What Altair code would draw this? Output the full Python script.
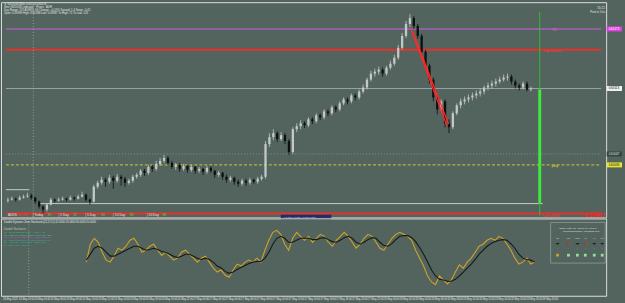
import altair as alt
import pandas as pd

FONT = "Liberation Sans"
BG = "#53635d"
TXT = "#e2e8e5"
AXC = "#b4bdb9"
W = 610
H_MAIN = 217
H_OSC = 78

# ---------------- price data (NZDUSD, M30) ----------------
open_px = [
    0.60000, 0.60001, 0.60002, 0.60001, 0.60003, 0.60004, 0.60005, 0.60003, 0.59999, 0.59994,
    0.59991, 0.59996, 0.60001, 0.60000, 0.60001, 0.60002, 0.60001, 0.60003, 0.60002, 0.60004,
    0.60006, 0.60001, 0.59999, 0.60014, 0.60018, 0.60021, 0.60019, 0.60023, 0.60020, 0.60024,
    0.60022, 0.60018, 0.60020, 0.60024, 0.60026, 0.60030, 0.60028, 0.60034, 0.60032, 0.60037,
    0.60040, 0.60043, 0.60038, 0.60034, 0.60036, 0.60032, 0.60035, 0.60031, 0.60034, 0.60030,
    0.60032, 0.60029, 0.60033, 0.60030, 0.60026, 0.60028, 0.60024, 0.60021, 0.60023, 0.60019,
    0.60017, 0.60020, 0.60018, 0.60021, 0.60019, 0.60022, 0.60024, 0.60057, 0.60064, 0.60068,
    0.60062, 0.60066, 0.60060, 0.60049, 0.60072, 0.60075, 0.60078, 0.60076, 0.60082, 0.60080,
    0.60086, 0.60084, 0.60090, 0.60088, 0.60094, 0.60092, 0.60098, 0.60102, 0.60100, 0.60106,
    0.60104, 0.60110, 0.60114, 0.60122, 0.60128, 0.60130, 0.60132, 0.60128, 0.60134, 0.60138,
    0.60144, 0.60154, 0.60166, 0.60178, 0.60184, 0.60176, 0.60166, 0.60150, 0.60136, 0.60122,
    0.60104, 0.60092, 0.60100, 0.60078, 0.60074, 0.60088, 0.60096, 0.60100, 0.60102, 0.60104,
    0.60106, 0.60108, 0.60110, 0.60114, 0.60116, 0.60118, 0.60120, 0.60122, 0.60124, 0.60125,
    0.60120, 0.60116, 0.60114, 0.60118, 0.60112,
]
high_px = [
    0.60003, 0.60004, 0.60003, 0.60005, 0.60006, 0.60008, 0.60007, 0.60004, 0.60000, 0.59995,
    0.59997, 0.60003, 0.60002, 0.60003, 0.60004, 0.60003, 0.60005, 0.60004, 0.60006, 0.60009,
    0.60007, 0.60002, 0.60016, 0.60020, 0.60024, 0.60023, 0.60026, 0.60025, 0.60027, 0.60026,
    0.60024, 0.60022, 0.60026, 0.60028, 0.60032, 0.60032, 0.60036, 0.60036, 0.60040, 0.60043,
    0.60046, 0.60045, 0.60040, 0.60038, 0.60038, 0.60037, 0.60036, 0.60036, 0.60035, 0.60034,
    0.60033, 0.60035, 0.60035, 0.60031, 0.60030, 0.60029, 0.60026, 0.60025, 0.60024, 0.60021,
    0.60022, 0.60022, 0.60023, 0.60022, 0.60024, 0.60026, 0.60060, 0.60068, 0.60072, 0.60070,
    0.60069, 0.60068, 0.60062, 0.60074, 0.60078, 0.60081, 0.60080, 0.60084, 0.60084, 0.60088,
    0.60088, 0.60092, 0.60092, 0.60096, 0.60096, 0.60100, 0.60104, 0.60104, 0.60108, 0.60108,
    0.60112, 0.60117, 0.60124, 0.60131, 0.60133, 0.60135, 0.60134, 0.60136, 0.60141, 0.60147,
    0.60157, 0.60169, 0.60181, 0.60188, 0.60186, 0.60178, 0.60168, 0.60152, 0.60138, 0.60124,
    0.60106, 0.60102, 0.60102, 0.60082, 0.60090, 0.60098, 0.60103, 0.60105, 0.60107, 0.60109,
    0.60111, 0.60113, 0.60116, 0.60119, 0.60121, 0.60123, 0.60125, 0.60127, 0.60128, 0.60127,
    0.60122, 0.60118, 0.60120, 0.60120, 0.60115,
]
low_px = [
    0.59998, 0.60000, 0.59999, 0.60000, 0.60002, 0.60003, 0.60001, 0.59997, 0.59992, 0.59987,
    0.59989, 0.59995, 0.59998, 0.59999, 0.60000, 0.59999, 0.60000, 0.60000, 0.60001, 0.60003,
    0.59999, 0.59996, 0.59998, 0.60012, 0.60016, 0.60014, 0.60017, 0.60012, 0.60018, 0.60015,
    0.60014, 0.60016, 0.60018, 0.60022, 0.60024, 0.60025, 0.60026, 0.60029, 0.60030, 0.60035,
    0.60038, 0.60036, 0.60032, 0.60031, 0.60029, 0.60030, 0.60028, 0.60029, 0.60027, 0.60028,
    0.60026, 0.60027, 0.60028, 0.60023, 0.60024, 0.60021, 0.60018, 0.60019, 0.60016, 0.60014,
    0.60015, 0.60015, 0.60016, 0.60017, 0.60017, 0.60020, 0.60022, 0.60054, 0.60061, 0.60059,
    0.60060, 0.60057, 0.60046, 0.60047, 0.60069, 0.60072, 0.60073, 0.60074, 0.60077, 0.60078,
    0.60081, 0.60082, 0.60085, 0.60086, 0.60089, 0.60090, 0.60096, 0.60097, 0.60098, 0.60101,
    0.60102, 0.60108, 0.60112, 0.60120, 0.60125, 0.60127, 0.60125, 0.60126, 0.60132, 0.60136,
    0.60142, 0.60152, 0.60164, 0.60175, 0.60173, 0.60163, 0.60147, 0.60133, 0.60118, 0.60100,
    0.60087, 0.60090, 0.60074, 0.60068, 0.60072, 0.60086, 0.60093, 0.60097, 0.60099, 0.60101,
    0.60103, 0.60105, 0.60107, 0.60111, 0.60113, 0.60115, 0.60118, 0.60120, 0.60121, 0.60117,
    0.60113, 0.60111, 0.60112, 0.60110, 0.60110,
]
close_px = [
    0.60001, 0.60002, 0.60001, 0.60003, 0.60004, 0.60005, 0.60003, 0.59999, 0.59994, 0.59991,
    0.59996, 0.60001, 0.60000, 0.60001, 0.60002, 0.60001, 0.60003, 0.60002, 0.60004, 0.60006,
    0.60001, 0.59999, 0.60014, 0.60018, 0.60021, 0.60019, 0.60023, 0.60020, 0.60024, 0.60022,
    0.60018, 0.60020, 0.60024, 0.60026, 0.60030, 0.60028, 0.60034, 0.60032, 0.60037, 0.60040,
    0.60043, 0.60038, 0.60034, 0.60036, 0.60032, 0.60035, 0.60031, 0.60034, 0.60030, 0.60032,
    0.60029, 0.60033, 0.60030, 0.60026, 0.60028, 0.60024, 0.60021, 0.60023, 0.60019, 0.60017,
    0.60020, 0.60018, 0.60021, 0.60019, 0.60022, 0.60024, 0.60057, 0.60064, 0.60068, 0.60062,
    0.60066, 0.60060, 0.60049, 0.60072, 0.60075, 0.60078, 0.60076, 0.60082, 0.60080, 0.60086,
    0.60084, 0.60090, 0.60088, 0.60094, 0.60092, 0.60098, 0.60102, 0.60100, 0.60106, 0.60104,
    0.60110, 0.60114, 0.60122, 0.60128, 0.60130, 0.60132, 0.60128, 0.60134, 0.60138, 0.60144,
    0.60154, 0.60166, 0.60178, 0.60184, 0.60176, 0.60166, 0.60150, 0.60136, 0.60122, 0.60104,
    0.60092, 0.60100, 0.60078, 0.60074, 0.60088, 0.60096, 0.60100, 0.60102, 0.60104, 0.60106,
    0.60108, 0.60110, 0.60114, 0.60116, 0.60118, 0.60120, 0.60122, 0.60124, 0.60125, 0.60120,
    0.60116, 0.60114, 0.60118, 0.60112, 0.60113,
]

# price axis tick values
price_ticks = [0.60198, 0.60190, 0.60182, 0.60174, 0.60166, 0.60158, 0.60150, 0.60142, 0.60134,
               0.60126, 0.60118, 0.60110, 0.60102, 0.60094, 0.60086, 0.60078, 0.60070, 0.60062,
               0.60054, 0.60046, 0.60038, 0.60030, 0.60022, 0.60014, 0.60006, 0.59998, 0.59990]

# horizontal levels: price, first bar, last bar
level_price = [0.60173, 0.60152, 0.60113, 0.60047, 0.60036, 0.60011, 0.59997, 0.59987]
level_from = [-0.5, -0.5, -0.5, -0.5, -0.5, -0.5, 8.25, -0.5]
level_to = [152.0, 152.0, 152.0, 152.0, 152.0, 5.5, 137.0, 152.0]

# red trend channel (two lines)
trend_group = ["a", "a", "b", "b"]
trend_bar = [103.25, 112.5, 103.65, 112.9]
trend_price = [0.60173, 0.60075, 0.60171, 0.60077]

# ADR bar
adr_bar = [136.25]
adr_top, adr_bot = [0.60190], [0.59985]
adr_fill_top, adr_fill_bot = [0.60112], [0.59997]

# ---------------- oscillator data ----------------
osc_first_bar = 21
osc_fast = [42, 69, 78, 72, 57, 45, 42, 51, 63, 60,
            66, 75, 78, 69, 57, 60, 66, 69, 60, 52,
            57, 51, 45, 48, 57, 60, 54, 48, 42, 48,
            51, 42, 33, 27, 30, 22, 19, 30, 39, 36,
            42, 45, 42, 48, 42, 60, 75, 87, 90, 84,
            69, 60, 78, 87, 81, 75, 81, 72, 78, 84,
            81, 72, 66, 75, 81, 87, 81, 72, 63, 69,
            78, 84, 81, 72, 63, 60, 69, 78, 84, 87,
            84, 81, 75, 60, 48, 36, 21, 12, 8, 21,
            15, 9, 15, 27, 38, 33, 42, 48, 57, 66,
            69, 75, 78, 75, 81, 78, 69, 60, 48, 39,
            42, 48, 39, 42]
osc_slow = [45, 54, 63, 66, 63, 57, 51, 51, 54, 57,
            60, 63, 66, 66, 63, 60, 61, 63, 61, 58,
            57, 54, 51, 49, 51, 54, 54, 51, 48, 46,
            48, 46, 42, 36, 33, 28, 25, 27, 31, 34,
            37, 40, 42, 43, 43, 48, 57, 69, 78, 81,
            78, 72, 72, 75, 78, 78, 78, 76, 76, 78,
            79, 76, 73, 72, 75, 79, 81, 78, 72, 69,
            72, 76, 79, 78, 72, 67, 66, 70, 76, 81,
            82, 82, 79, 73, 64, 54, 42, 30, 21, 16,
            15, 13, 13, 16, 21, 27, 33, 39, 46, 54,
            60, 66, 70, 73, 75, 76, 75, 70, 63, 54,
            48, 46, 45, 42]
osc_ticks = [0, 20, 50, 80, 100]

# ---------------- time axis ----------------
time_label_bars = [0, 4, 8, 12, 16, 20, 24, 28, 32, 36, 40, 44, 48, 52, 56, 60, 64, 68,
                   72, 76, 80, 84, 88, 92, 96, 100, 104, 108, 112, 116, 120, 124, 128, 132, 136]
time_labels = ["16 May 2023", "16 May 02:00", "16 May 04:00", "16 May 06:00", "16 May 08:00",
               "16 May 10:00", "16 May 12:00", "16 May 14:00", "16 May 16:00", "16 May 18:00",
               "16 May 20:00", "16 May 22:00", "17 May 00:00", "17 May 02:00", "17 May 04:00",
               "17 May 06:00", "17 May 08:00", "17 May 10:00", "17 May 12:00", "17 May 14:00",
               "17 May 16:00", "17 May 18:00", "17 May 20:00", "17 May 22:00", "18 May 00:00",
               "18 May 02:00", "18 May 04:00", "18 May 06:00", "18 May 08:00", "18 May 10:00",
               "18 May 12:00", "18 May 14:00", "18 May 16:00", "18 May 18:00", "18 May 20:00"]

# ---------------- frames ----------------
candles = pd.DataFrame({"i": list(range(len(close_px))), "open": open_px, "high": high_px,
                        "low": low_px, "close": close_px})
candles["dir"] = ["up" if c >= o else "down" for o, c in zip(open_px, close_px)]
levels = pd.DataFrame({"price": level_price, "x0": level_from, "x1": level_to})
trend = pd.DataFrame({"g": trend_group, "i": trend_bar, "price": trend_price})
adr = pd.DataFrame({"i": adr_bar, "top": adr_top, "bot": adr_bot,
                    "ftop": adr_fill_top, "fbot": adr_fill_bot})
osc = pd.DataFrame({"i": list(range(osc_first_bar, osc_first_bar + len(osc_fast))),
                    "fast": osc_fast, "slow": osc_slow})
times = pd.DataFrame({"i": time_label_bars, "t": time_labels})
vline = pd.DataFrame({"i": [6.5]})
ONE = pd.DataFrame({"k": [0]})

xs = alt.Scale(domain=[-0.5, 152.0], nice=False, zero=False)
ys = alt.Scale(domain=[0.59983, 0.60200], nice=False, zero=False)
osy = alt.Scale(domain=[-9, 108], nice=False, zero=False)
X = alt.X("i:Q", scale=xs, axis=None)


def text(t, px, py, color=TXT, size=3.0, align="left", weight="normal", font=FONT):
    return alt.Chart(pd.DataFrame({"t": [t]})).mark_text(
        align=align, baseline="middle", fontSize=size, color=color,
        fontWeight=weight, font=font).encode(text="t:N", x=alt.value(px), y=alt.value(py))


# ---------------- main panel ----------------
level_styles = [("#a560b8", 1.3, None), ("#e8302c", 2.0, None), ("#aab3af", 0.8, None),
                ("#8d9a95", 0.8, [1, 2]), ("#cccc33", 1.0, [3, 2]), ("#c4ccc8", 1.0, None),
                ("#c4ccc8", 1.0, None), ("#e8302c", 2.0, None)]
main_layers = []
for k, (col, wdt, dash) in enumerate(level_styles):
    kw = dict(color=col, strokeWidth=wdt)
    if dash:
        kw["strokeDash"] = dash
    main_layers.append(
        alt.Chart(levels.iloc[[k]]).mark_rule(**kw).encode(
            x=alt.X("x0:Q", scale=xs, axis=None), x2="x1:Q",
            y=alt.Y("price:Q", scale=ys, axis=None)))

main_layers.append(alt.Chart(vline).mark_rule(color="#a3ada9", strokeWidth=0.8, strokeDash=[1, 2])
                   .encode(x=X))
main_layers.append(alt.Chart(adr).mark_rule(color="#2fbf2f", strokeWidth=1).encode(
    x=X, y=alt.Y("top:Q", scale=ys, axis=None), y2="bot:Q"))
main_layers.append(alt.Chart(adr).mark_rule(color="#3fea3f", strokeWidth=3).encode(
    x=X, y=alt.Y("ftop:Q", scale=ys, axis=None), y2="fbot:Q"))

cscale = alt.Scale(domain=["up", "down"], range=["#c3c9c6", "#0c100e"])
main_layers.append(alt.Chart(candles).mark_rule(strokeWidth=0.8).encode(
    x=X, y=alt.Y("low:Q", scale=ys, axis=None), y2="high:Q",
    color=alt.Color("dir:N", scale=cscale, legend=None)))
main_layers.append(alt.Chart(candles).mark_bar(width=2.3).encode(
    x=X,
    y=alt.Y("open:Q", scale=ys, axis=alt.Axis(
        orient="right", values=price_ticks, format=".5f", labelFontSize=3, labelFont=FONT,
        labelColor=TXT, tickSize=1.5, tickColor=AXC, domainColor=AXC, labelPadding=1,
        grid=False, title=None, labelOverlap=False)),
    y2="close:Q",
    color=alt.Color("dir:N", scale=cscale, legend=None)))
main_layers.append(alt.Chart(trend).mark_line(color="#ff2a2a", strokeWidth=1.3).encode(
    x=X, y=alt.Y("price:Q", scale=ys, axis=None), detail="g:N"))

# highlighted price labels on the axis
for price, fill, tcol in [(0.60173, "#e43ee4", "#ffffff"), (0.60113, "#eef0ef", "#111111"),
                          (0.60047, "#37443f", "#dfe5e2"), (0.60036, "#e6e632", "#111111")]:
    d = pd.DataFrame({"price": [price], "t": [f"{price:.5f}"]})
    main_layers.append(alt.Chart(d).mark_rule(color=fill, strokeWidth=5).encode(
        x=alt.value(W + 0.5), x2=alt.value(626), y=alt.Y("price:Q", scale=ys, axis=None)))
    main_layers.append(alt.Chart(d).mark_text(align="left", baseline="middle", fontSize=3,
                                              color=tcol, font=FONT).encode(
        x=alt.value(W + 2.5), y=alt.Y("price:Q", scale=ys, axis=None), text="t:N"))

# header text
main_layers += [
    text("\u25bc NZDUSD,M30  0.60110 0.60118", 3, 2, size=2.8),
    text("Strict NZDUSD indicator \u00b7 Pivots \u00b7 ADR", 3, 5, size=2.8),
    text("Day Range: 197  ADR(5): 64  Change: +0.19%  Spread: 1.4  Swap: -0.41", 3, 7.8, size=2.8),
    text("Open: 0.59999  High: 0.60188  Low: 0.59987  To High: 75  To Low: 126", 3, 10.6, size=2.8),
    # right side labels
    text("R1", 556, 28, color="#e050e0", size=3.5),
    text("High 0.60152", 547, 49.5, color="#ff3a3a", size=3),
    text("yday", 555, 165.5, color="#dada30", size=3.2),
    text("Low 0.59987", 546, 215.5, color="#ff3a3a", size=3),
    text("0.59987", 609, 214.5, color="#ff2020", size=6, align="right", weight="bold"),
    text("55:22", 605, 5.5, size=3, align="center"),
    text("Pivot in 1 hrs", 609, 9.5, size=2.6, align="right"),
    # session bar
    text("AUDS", 7, 215, size=3.3),
    text("-12 -46", 16, 215, color="#ff4040", size=3.3),
    text("| Today", 32, 215, size=3.3), text("35", 47, 215, color="#40e040", size=3.3),
    text("| 1 Day", 58, 215, size=3.3), text("11", 73, 215, color="#40e040", size=3.3),
    text("| 5 Day", 85, 215, size=3.3), text("50", 101, 215, color="#40e040", size=3.3),
    text("| 10 Day", 113, 215, size=3.3), text("68", 130, 215, color="#40e040", size=3.3),
    text("| 20 Day", 147, 215, size=3.3), text("68", 163, 215, color="#40e040", size=3.3),
]
main_layers.append(alt.Chart(ONE).mark_rect(color="#262c63").encode(
    x=alt.value(282), x2=alt.value(333), y=alt.value(214.3), y2=alt.value(219.6)))
main_layers.append(text("\u00d7 0.000   \u00d7 0.000   \u00d7 0.000  0.000", 285, 217,
                        size=2.4, color="#dfe3f0"))

main = alt.layer(*main_layers).properties(width=W, height=H_MAIN)

# ---------------- oscillator panel ----------------
OX = alt.X("i:Q", scale=xs, axis=None)
osc_layers = [
    alt.Chart(ONE).mark_rule(color="#a0aaa6", strokeWidth=1).encode(
        x=alt.value(0), x2=alt.value(W), y=alt.value(0)),
    alt.Chart(ONE).mark_rule(color=AXC, strokeWidth=1).encode(
        x=alt.value(0), x2=alt.value(W), y=alt.value(H_OSC + 0.5)),
    alt.Chart(vline).mark_rule(color="#a3ada9", strokeWidth=0.8, strokeDash=[1, 2]).encode(x=OX),
    alt.Chart(osc).mark_line(color="#cfa327", strokeWidth=1.1).encode(
        x=OX, y=alt.Y("fast:Q", scale=osy, axis=alt.Axis(
            orient="right", values=osc_ticks, labelFontSize=3, labelFont=FONT, labelColor=TXT,
            tickSize=1.5, tickColor=AXC, domainColor=AXC, labelPadding=1, grid=False,
            title=None, labelOverlap=False))),
    alt.Chart(osc).mark_line(color="#151a17", strokeWidth=1.1).encode(
        x=OX, y=alt.Y("slow:Q", scale=osy, axis=None)),
    alt.Chart(times).mark_text(align="left", baseline="middle", fontSize=2.6, color=TXT,
                               font=FONT).encode(x=OX, y=alt.value(H_OSC + 3.2), text="t:N"),
    text("Double Dynamic Zone Stochastic(14,3,3,5) 42.0000 45.0000 80.0000 20.0000", 3, 3.5, size=2.7),
    text("Double Stochastic", 3, 11, color="#bcc6c1", size=2.8),
    text("01 - Trend: Bullish (M30) \u00b7 Angle > 30\u00b0", 3, 14, color="#3ad13a", size=2.5),
    text("02 - Fast %K crossed above Slow %D \u00b7 Buy", 3, 16.5, color="#3cc8d8", size=2.5),
    text("03 - %K 42.16 / %D 45.01 \u00b7 Zone: Neutral", 3, 19, color="#c75ad0", size=2.5),
    text("04 - Upper Zone 80.00 / Lower Zone 20.00", 3, 21.5, color="#36b8a0", size=2.5),
    text("05 - Alert: On \u00b7 Sound: Off \u00b7 Email: Off", 3, 24, color="#36b8a0", size=2.5),
    text("06 - Bars: 135 \u00b7 Shift: 0", 3, 26.5, color="#36b8a0", size=2.5),
    # info box
    alt.Chart(ONE).mark_rect(fillOpacity=0, stroke="#8f9d98", strokeWidth=0.8).encode(
        x=alt.value(554), x2=alt.value(609), y=alt.value(4), y2=alt.value(45)),
    text("Stoch Angle: 30\u00b0 Green: 60\u00b0 Red: 0\u00b0", 582, 9.5, size=2.4, align="center"),
    text("Trend/Momentum: Ascending (6/7)", 585, 12.7, size=2.4, align="center"),
]
cols_x = [561, 572, 581, 589, 598, 606]
tf_names = ["M1", "M5", "M15", "H1", "H4", "D1"]
arrow_colors = ["#111111", "#e02020", "#111111", "#e02020", "#111111", "#111111"]
square_colors = ["#dc9a22", "#8fe08f", "#8fe08f", "#8fe08f", "#8fe08f", "#8fe08f"]
for cx, nm, ac, sc in zip(cols_x, tf_names, arrow_colors, square_colors):
    osc_layers.append(text(nm, cx, 20, size=2.4, align="center", color="#cfd6d3"))
    osc_layers.append(text("\u27a1", cx, 26, size=4.2, align="center", color=ac, font="DejaVu Sans"))
    osc_layers.append(text("\u2022", cx, 30.5, size=3, align="center", color="#7e8c87"))
    osc_layers.append(alt.Chart(ONE).mark_square(size=8, color=sc, opacity=1).encode(
        x=alt.value(cx), y=alt.value(37)))

lower = alt.layer(*osc_layers).properties(width=W, height=H_OSC)

chart = alt.vconcat(main, lower, spacing=1, padding=0, background=BG,
                    bounds="flush").configure_view(strokeWidth=0).configure(font=FONT)

chart.save("out.html", embed_options={"renderer": "svg", "actions": False})
